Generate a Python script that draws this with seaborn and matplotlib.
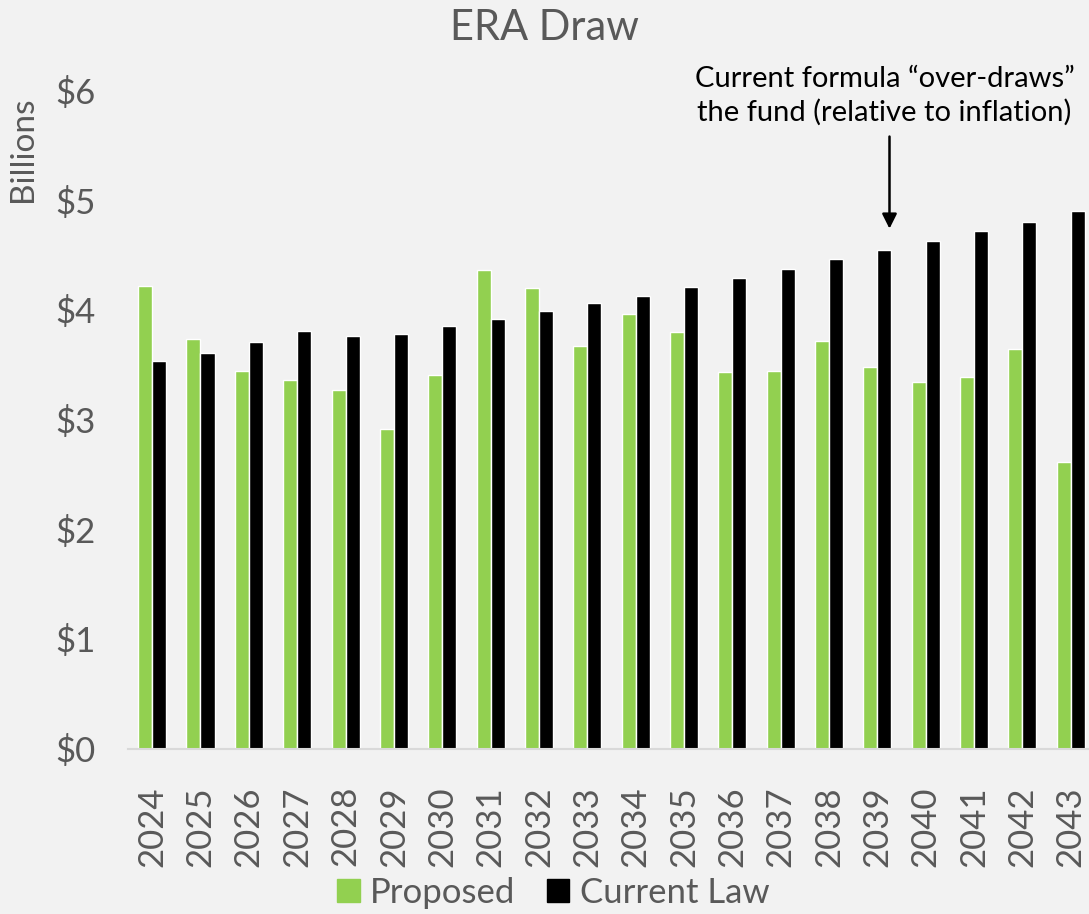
import matplotlib
matplotlib.use("Agg")
import matplotlib.pyplot as plt
import seaborn as sns
import pandas as pd

years = [str(y) for y in range(2024, 2044)]
proposed = [4.22, 3.73, 3.44, 3.36, 3.27, 2.91, 3.41, 4.36, 4.20, 3.67,
            3.96, 3.80, 3.43, 3.44, 3.72, 3.48, 3.34, 3.39, 3.64, 2.61]
current_law = [3.53, 3.61, 3.71, 3.81, 3.76, 3.78, 3.85, 3.92, 3.99, 4.06,
               4.13, 4.21, 4.29, 4.37, 4.46, 4.55, 4.63, 4.72, 4.80, 4.90]
series_names = ["Proposed", "Current Law"]
y_ticks = [0, 1, 2, 3, 4, 5, 6]

df = pd.DataFrame({
    "year": years * 2,
    "value": proposed + current_law,
    "series": [series_names[0]] * len(years) + [series_names[1]] * len(years),
})

sns.set_theme(style="white")
plt.rcParams["font.family"] = ["Lato", "DejaVu Sans"]

BG = "#f2f2f2"
GRAY = "#595959"
fig = plt.figure(figsize=(10.89, 9.14), dpi=100, facecolor=BG)
ax = fig.add_axes([0.1175, 0.181, 0.888, 0.720], facecolor=BG)

sns.barplot(data=df, x="year", y="value", hue="series", order=years,
            hue_order=series_names, palette=["#92d050", "#000000"],
            width=0.58, gap=0, saturation=1, ax=ax, legend=False)

ax.set_ylim(0, 6)
ax.set_xlim(-0.5, len(years) - 0.5)
ax.set_yticks(y_ticks)
ax.set_yticklabels([f"${v}" for v in y_ticks])
ax.tick_params(axis="y", length=0, pad=23, labelsize=25, labelcolor=GRAY)
ax.tick_params(axis="x", length=0, pad=27, labelsize=25, labelcolor=GRAY,
               labelrotation=90)
for s in ["top", "right", "left"]:
    ax.spines[s].set_visible(False)
ax.spines["bottom"].set_color("#d9d9d9")
ax.spines["bottom"].set_linewidth(1.5)
ax.set_xlabel("")
ax.set_ylabel("Billions", fontsize=24, color=GRAY)
ax.yaxis.set_label_coords(-0.093, 0.91)

fig.text(0.5, 0.969, "ERA Draw", ha="center", va="center", fontsize=30,
         color=GRAY)

# annotation about the current-law formula
ax.text(15.15, 5.95, "Current formula \u201cover-draws\u201d\nthe fund (relative to inflation)",
        ha="center", va="center", fontsize=21, color="black",
        linespacing=1.3, clip_on=False)
ax.annotate("", xy=(15.25, 4.74), xytext=(15.25, 5.58),
            arrowprops=dict(arrowstyle="-|>", color="black", lw=1.8,
                            mutation_scale=22, shrinkA=0, shrinkB=0),
            annotation_clip=False)

handles = [plt.Rectangle((0, 0), 1, 1, color=c) for c in ["#92d050", "#000000"]]
fig.legend(handles, series_names, loc="center", bbox_to_anchor=(0.508, 0.023),
           ncol=2, frameon=False, fontsize=25, labelcolor=GRAY,
           handlelength=0.65, handleheight=0.65, handletextpad=0.3,
           columnspacing=0.9)

fig.savefig("out.png", dpi=100, facecolor=BG)
